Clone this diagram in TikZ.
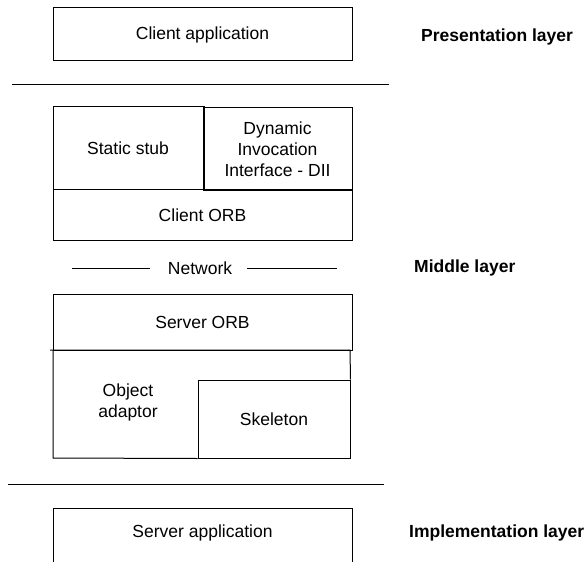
\documentclass[tikz,border=0pt]{standalone}
\usepackage{fontspec}
\setmainfont{Liberation Sans}
\begin{document}
\begin{tikzpicture}[x=1pt,y=-1pt,
  every node/.style={font=\fontsize{17.5}{21}\selectfont, inner sep=0pt},
  box/.style={draw, line width=1pt, rectangle, align=center},
  layer/.style={font=\fontsize{17.5}{21}\selectfont\bfseries, anchor=west},
  rule/.style={line width=1pt}]
\useasboundingbox (0,0) rectangle (585,561);
\clip (0,0) rectangle (585,561);
% presentation
\node[box, minimum width=299pt, minimum height=53pt] (clientapp) at (202.5,34.5) {Client application};
\node[layer] (pres) at (421,37) {Presentation layer};
\coordinate (r1a) at (12,85); \coordinate (r1b) at (389,85);
\draw[rule] (r1a) -- (r1b);
% client side
\node[box, minimum width=150pt, minimum height=83pt] (stub) at (128,148.5) {Static stub};
\node[box, minimum width=149pt, minimum height=83pt] (dii) at (277.5,149) {Dynamic\\Invocation\\Interface - DII};
\draw[line width=2pt] (stub.north east) -- (stub.south east);
\node[box, minimum width=299pt, minimum height=50pt] (corb) at (202.5,215) {Client ORB};
% network
\node (net) at (200,268) {Network};
\coordinate (n1) at (72,268); \coordinate (n2) at (150,268);
\coordinate (n3) at (247,268); \coordinate (n4) at (337,268);
\draw[rule] (n1) -- (n2);
\draw[rule] (n3) -- (n4);
\node[layer] (mid) at (414,268) {Middle layer};
% server side
\node[box, minimum width=299pt, minimum height=56pt] (sorb) at (202.5,322) {Server ORB};
\coordinate (oa1) at (50,350); \coordinate (oa2) at (350,350);
\coordinate (oa3) at (53,350); \coordinate (oa4) at (53,458);
\node[box, minimum width=152pt, minimum height=78pt] (skel) at (274,419) {Skeleton};
\draw[rule] (oa1) -- (oa2) -- (skel.north east);
\draw[rule] (oa3) -- (oa4) -- (skel.south west);
\node[align=center] (oa) at (128,402) {Object\\adaptor};
\coordinate (r2a) at (8,484); \coordinate (r2b) at (384,484);
\draw[rule] (r2a) -- (r2b);
% implementation
\node[box, minimum width=299pt, minimum height=70pt] (serverapp) at (202.5,543) {};
\node (serverapptext) at (202.5,533) {Server application};
\node[layer] (impl) at (409,533) {Implementation layer};
\end{tikzpicture}
\end{document}
